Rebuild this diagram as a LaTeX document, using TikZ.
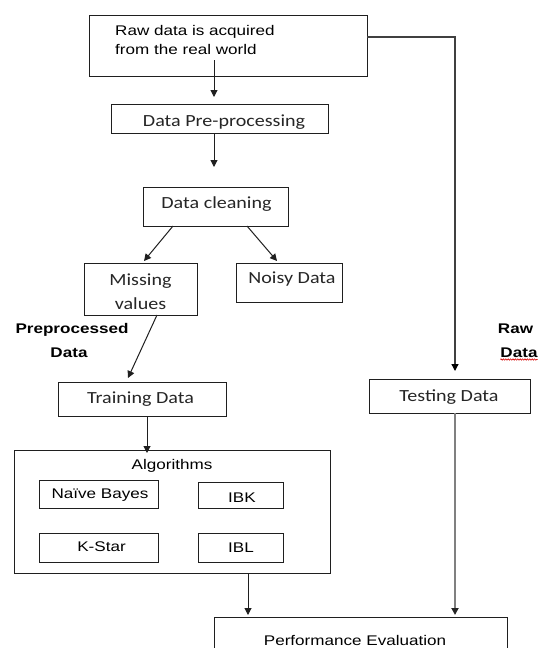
\documentclass[tikz,border=0pt]{standalone}
\usepackage{fontspec}
\setmainfont[FakeStretch=1.22]{Liberation Sans}
\newfontfamily\calib[FakeStretch=1.18]{Carlito}
\usetikzlibrary{arrows.meta,calc,decorations.pathmorphing}
\begin{document}
\begin{tikzpicture}[x=1pt,y=-1pt,
  box/.style={draw=black!88, line width=1pt, rectangle, inner sep=0pt, outer sep=0pt, anchor=north west},
  ar/.style={font=\fontsize{14}{19}\selectfont, inner sep=0pt, anchor=base},
  arb/.style={font=\fontsize{14}{19}\selectfont\bfseries, inner sep=0pt, anchor=base},
  ca/.style={font=\calib\fontsize{17}{24}\selectfont, inner sep=0pt, anchor=base, text=black!85},
  arr/.style={line width=1pt, draw=black!88, -{Triangle[length=7pt,width=7pt]}},
  rawline/.style={line width=1.3pt, draw=black!75, -{Triangle[length=7pt,width=7pt,color=black]}},
  grayline/.style={line width=2.2pt, draw=black!50, -{Triangle[length=7pt,width=7pt,color=black!85]}}
]
\useasboundingbox (0,0) rectangle (540,648);
\clip (0,0) rectangle (540,648);
\fill[white] (0,0) rectangle (540,648);

% boxes
\node[box, minimum width=278pt, minimum height=61pt] (raw) at (89,15) {};
\node[box, minimum width=217pt, minimum height=29pt] (pre) at (111,104) {};
\node[box, minimum width=145pt, minimum height=39pt] (clean) at (143,187) {};
\node[box, minimum width=113pt, minimum height=52pt] (miss) at (84,263) {};
\node[box, minimum width=106pt, minimum height=39pt] (noisy) at (236,263) {};
\node[box, minimum width=168pt, minimum height=34pt] (train) at (58,382) {};
\node[box, minimum width=161pt, minimum height=34pt] (test) at (369,379) {};
\node[box, minimum width=316pt, minimum height=123pt] (alg) at (14,450) {};
\node[box, minimum width=119pt, minimum height=28pt] (nb) at (39,480) {};
\node[box, minimum width=85pt, minimum height=26pt] (ibk) at (198,482) {};
\node[box, minimum width=119pt, minimum height=29pt] (ks) at (39,533) {};
\node[box, minimum width=85pt, minimum height=29pt] (ibl) at (198,533) {};
\node[box, minimum width=293pt, minimum height=60pt] (perf) at (214,617) {};

% texts
\node[ar, anchor=base west] (rawt1) at (115,35) {Raw data is acquired};
\node[ar, anchor=base west] (rawt2) at (115,54) {from the real world};
\node[ca] (pret) at (224,126) {Data Pre-processing};
\node[ca] (cleant) at (216.5,208) {Data cleaning};
\node[ca] (misst1) at (140.5,285) {Missing};
\node[ca] (misst2) at (140.5,309) {values};
\node[ca] (noisyt) at (292,283) {Noisy Data};
\node[ca] (traint) at (140.5,403) {Training Data};
\node[ca] (testt) at (449,401) {Testing Data};
\node[ar] (algt) at (172,469) {Algorithms};
\node[ar] (nbt) at (100,498) {Naïve Bayes};
\node[ar] (ibkt) at (242,502) {IBK};
\node[ar] (kst) at (101.5,551) {K-Star};
\node[ar] (iblt) at (241,552) {IBL};
\node[ar] (perft) at (355,645.5) {Performance Evaluation};

% side labels
\node[arb] (ppd1) at (72,333) {Preprocessed};
\node[arb] (ppd2) at (69,357) {Data};
\node[arb] (rd1) at (515.5,333) {Raw};
\node[arb] (rd2) at (519,357) {Data};
\draw[red!85!black, line width=0.6pt, decorate, decoration={snake, amplitude=0.7pt, segment length=2.4pt}]
  ([yshift=-2.5pt]rd2.base west) -- ([yshift=-2.5pt]rd2.base east);

% connectors
\draw[arr] ([xshift=-14pt,yshift=16pt]raw.south) -- ([xshift=-5.5pt,yshift=7pt]pre.north);
\draw[arr] ([xshift=-5.5pt]pre.south) -- ([xshift=-1.5pt,yshift=20pt]clean.north);
\draw[arr] ([xshift=-42.5pt]clean.south) -- ([xshift=3.5pt,yshift=2pt]miss.north);
\draw[arr] ([xshift=31.5pt]clean.south) -- ([xshift=-12pt,yshift=2pt]noisy.north);
\draw[arr] ([xshift=16.5pt]miss.south) -- ([xshift=-14pt,yshift=4pt]train.north);
\draw[arr] ([xshift=5pt]train.south) -- ([xshift=-25pt,yshift=-3pt]alg.north);
\draw[arr] ([xshift=76pt]alg.south) -- ([xshift=-112.5pt,yshift=2pt]perf.north);
\draw[rawline] ([yshift=8.5pt]raw.east) -| ([xshift=5.5pt,yshift=8pt]test.north);
\draw[grayline] ([xshift=5.5pt]test.south) -- ([xshift=94.5pt,yshift=2pt]perf.north);
\end{tikzpicture}
\end{document}
